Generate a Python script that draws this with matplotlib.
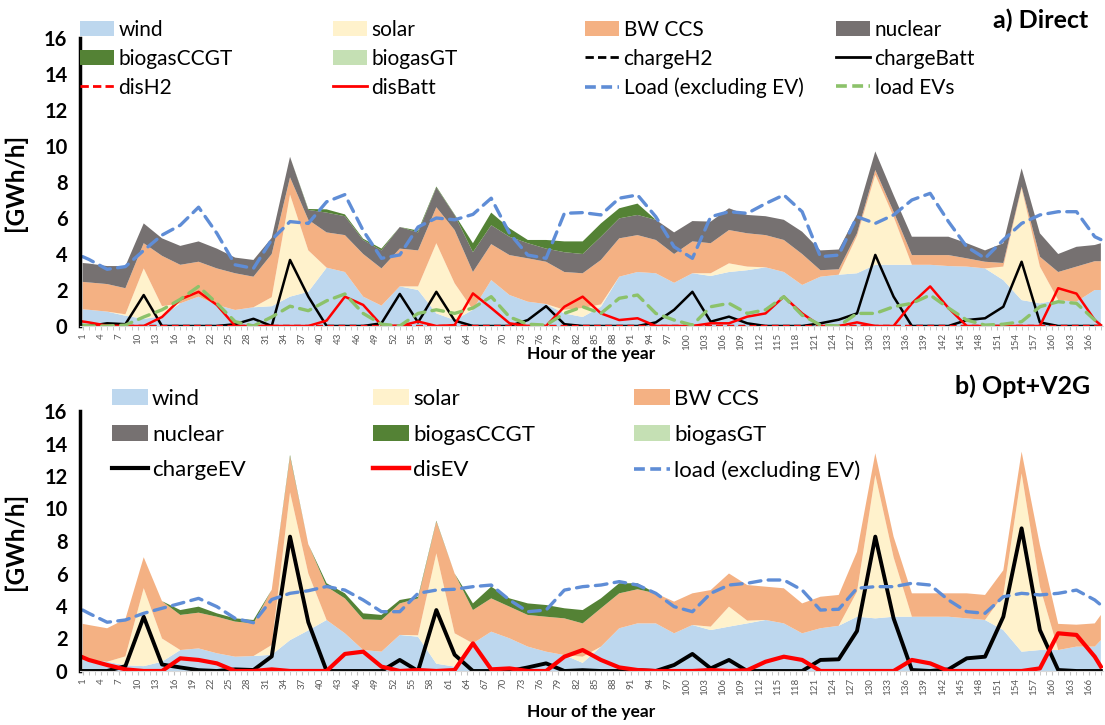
import numpy as np
import matplotlib
matplotlib.use('Agg')
import matplotlib.pyplot as plt
from matplotlib.patches import Patch
from matplotlib.lines import Line2D

plt.rcParams['font.family'] = ['Lato', 'DejaVu Sans']

# hours (every 3 h, plus both ends)
hours = [1] + list(range(2, 168, 3)) + [168]
tick_hours = list(range(1, 167, 3))

# ---------- a) Direct : upper edge of each stacked area ----------
a_wind_top = [.93, .9, .8, .57, .4, .55, 1.26, 1.63, 1.17, .89, 1.04, 1.1, 1.63, 1.9, 3.24, 3.0,
              1.63, 1.13, 2.2, 2.0, .7, .33, .9, 2.55, 1.72, 1.35, 1.22, .7, .5, 1.07, 2.74, 3.0,
              2.93, 2.4, 2.93, 2.78, 3.0, 3.1, 3.26, 3.0, 2.28, 2.74, 2.85, 2.93, 3.4, 3.4, 3.4,
              3.4, 3.33, 3.3, 3.2, 2.55, 1.44, 1.26, 1.44, 1.35, 2.0, 2.0]
a_solar_top = [.93, .9, .8, .65, 3.2, 1.1, 1.26, 1.63, 1.17, .89, 1.04, 1.6, 7.3, 4.2, 3.24, 3.0,
               1.63, 1.13, 2.2, 2.2, 4.6, 2.37, .9, 2.55, 1.72, 1.35, 1.22, .9, 1.0, 1.2, 2.74, 3.0,
               2.93, 2.4, 2.93, 2.93, 3.48, 3.3, 3.26, 3.0, 2.28, 2.74, 2.85, 5.0, 8.4, 6.07, 3.4,
               3.4, 3.33, 3.3, 3.2, 3.3, 7.65, 3.3, 1.44, 1.35, 2.0, 2.0]
a_bwccs_top = [2.45, 2.42, 2.33, 2.1, 4.6, 3.9, 3.4, 3.57, 3.2, 2.93, 2.74, 4.0, 8.26, 5.9, 5.2, 5.05,
               4.0, 3.2, 4.3, 4.2, 6.6, 5.33, 3.0, 4.55, 3.94, 3.76, 3.57, 3.0, 2.93, 3.67, 4.87, 5.05,
               4.78, 4.0, 4.7, 4.6, 5.33, 5.15, 5.05, 4.78, 4.0, 3.1, 3.15, 5.15, 8.67, 6.35, 3.94,
               3.94, 3.94, 3.76, 3.57, 3.5, 7.74, 3.85, 3.0, 3.3, 3.6, 3.6]
a_nuclear_top = [3.5, 3.47, 3.33, 3.33, 5.7, 4.87, 4.45, 4.7, 4.3, 3.8, 3.67, 4.9, 9.4, 6.45, 6.3, 6.1,
                 4.78, 4.2, 5.5, 5.2, 7.7, 6.17, 4.1, 5.6, 4.96, 4.6, 4.3, 4.1, 4.0, 4.96, 5.98, 6.17,
                 5.9, 5.2, 5.83, 5.8, 6.54, 6.17, 6.1, 5.9, 5.24, 4.2, 4.25, 6.2, 9.7, 7.28, 4.96,
                 4.96, 4.96, 4.6, 4.2, 4.6, 8.76, 5.15, 4.0, 4.4, 4.5, 4.6]
a_ccgt_top = [3.5, 3.47, 3.33, 3.33, 5.7, 4.87, 4.45, 4.7, 4.3, 3.8, 3.67, 4.9, 9.4, 6.5, 6.48, 6.2,
              4.85, 4.3, 5.5, 5.3, 7.75, 6.2, 4.6, 6.3, 5.43, 4.78, 4.78, 4.7, 4.7, 5.7, 6.54, 6.8,
              5.9, 5.2, 5.83, 5.8, 6.54, 6.17, 6.1, 5.9, 5.24, 4.2, 4.25, 6.2, 9.7, 7.28, 4.96,
              4.96, 4.96, 4.6, 4.2, 4.6, 8.76, 5.15, 4.0, 4.4, 4.5, 4.6]
a_gt_top = a_ccgt_top

a_load = [3.85, 3.7, 3.15, 3.3, 4.2, 5.05, 5.6, 6.6, 5.15, 3.4, 3.2, 4.8, 5.8, 5.7, 6.9, 7.3,
          5.3, 3.76, 3.95, 5.5, 6.0, 5.9, 6.2, 7.1, 5.15, 3.94, 3.76, 6.26, 6.3, 6.17, 7.1, 7.28,
          6.07, 4.4, 3.76, 6.07, 6.35, 6.26, 6.8, 7.28, 6.35, 3.85, 3.94, 6.07, 5.7, 6.17, 7.0,
          7.37, 5.8, 4.4, 3.76, 4.78, 5.7, 6.17, 6.35, 6.35, 4.96, 4.8]
a_load_ev = [.05, 0, 0, .05, .5, .9, 1.48, 2.2, 1.26, .24, 0, .5, 1.1, .85, 1.4, 1.78,
             .7, .1, 0, .7, .9, .7, 1.0, 1.63, .5, .1, .05, .7, 1.07, .7, 1.54, 1.72,
             .7, .33, .05, 1.07, 1.26, .7, .9, 1.63, .6, .05, 0, .7, .7, 1.07, 1.26,
             1.72, 1.0, .33, .05, .1, .24, 1.07, 1.35, 1.26, .33, .2]
a_charge_batt = [0, 0, .15, .1, 1.72, 0, 0, 0, 0, .1, .4, 0, 3.67, 1.63, 0, 0,
                 0, .15, 1.78, .2, 1.9, .3, 0, 0, 0, .33, 1.1, .1, 0, 0, 0, 0,
                 .2, .9, 1.9, .24, .52, .15, 0, 0, 0, .15, .35, .7, 3.95, 1.63, 0,
                 0, 0, .33, .43, 1.07, 3.57, .2, 0, 0, 0, 0]
a_dis_batt = [.25, .2, .02, 0, 0, .5, 1.48, 1.9, 1.17, 0, 0, 0, 0, 0, .3, 1.63,
              1.17, .05, 0, .25, 0, .05, 1.81, 1.0, .15, 0, 0, 1.07, 1.63, .7, .33, .43,
              0, 0, 0, .15, .15, .52, .7, 1.63, .7, 0, 0, .2, 0, 0, 1.26,
              2.2, 1.0, 0, 0, 0, 0, 0, 2.1, 1.8, .33, .05]
a_charge_h2 = [0] * len(hours)
a_dis_h2 = [0] * len(hours)

# ---------- b) Opt+V2G : upper edge of each stacked area ----------
b_wind_top = [.68, .7, .57, .35, .3, .57, 1.29, 1.39, 1.09, .88, .92, 1.0, 1.9, 2.5, 3.14, 2.32,
              1.29, 1.19, 2.22, 2.11, .45, .27, 1.7, 2.42, 2.01, 1.5, 1.19, .98, .5, 1.5, 2.63, 2.93,
              2.93, 2.32, 2.83, 2.52, 2.73, 2.93, 3.14, 2.93, 2.32, 2.63, 2.78, 3.34, 3.24, 3.34, 3.34,
              3.34, 3.34, 3.24, 3.14, 2.52, 1.19, 1.29, 1.29, 1.5, 1.5, 1.9]
b_solar_top = [.68, .7, .57, .9, 5.1, 2.0, 1.29, 1.39, 1.09, .88, .92, 1.6, 11.0, 6.0, 3.14, 2.32,
               1.29, 1.19, 2.22, 2.2, 7.24, 2.32, 1.7, 2.42, 2.01, 1.5, 1.19, .98, .88, 1.5, 2.63, 2.93,
               2.93, 2.32, 2.83, 2.73, 3.96, 3.1, 3.14, 2.93, 2.32, 2.63, 2.78, 4.88, 12.06, 7.0, 3.34,
               3.34, 3.34, 3.24, 3.14, 4.68, 12.16, 5.19, 1.29, 1.5, 1.5, 1.9]
b_bwccs_top = [2.9, 2.83, 2.63, 3.2, 7.0, 4.3, 3.45, 3.59, 3.34, 3.04, 2.93, 5.0, 13.2, 7.8, 5.19, 4.47,
               3.18, 3.14, 4.16, 4.47, 9.2, 6.0, 3.75, 4.47, 3.96, 3.45, 3.34, 3.24, 2.93, 3.86, 4.78, 5.03,
               4.78, 4.27, 4.78, 4.98, 6.0, 5.29, 5.19, 5.09, 4.16, 4.57, 4.68, 7.34, 13.4, 8.27, 4.78,
               4.78, 4.78, 4.78, 4.68, 6.2, 13.5, 7.75, 2.9, 2.85, 2.93, 3.45]
b_nuclear_top = b_bwccs_top
b_ccgt_top = [2.9, 2.83, 2.63, 3.2, 7.0, 4.3, 3.75, 3.96, 3.55, 3.24, 3.14, 5.0, 13.3, 7.8, 5.4, 4.78,
              3.55, 3.45, 4.37, 4.57, 9.25, 6.0, 4.16, 5.19, 4.47, 4.16, 4.06, 3.86, 3.75, 4.47, 5.4, 5.4,
              4.78, 4.27, 4.78, 4.98, 6.0, 5.29, 5.19, 5.09, 4.16, 4.57, 4.68, 7.34, 13.4, 8.27, 4.78,
              4.78, 4.78, 4.78, 4.68, 6.2, 13.5, 7.75, 2.9, 2.85, 2.93, 3.45]
b_gt_top = b_ccgt_top

b_load = [3.75, 3.55, 3.0, 3.14, 3.55, 3.86, 4.16, 4.47, 3.96, 3.24, 2.97, 4.4, 4.78, 4.94, 5.2, 4.98,
          4.37, 3.65, 3.65, 4.78, 4.98, 5.03, 5.19, 5.29, 4.37, 3.65, 3.75, 4.98, 5.19, 5.29, 5.5, 5.29,
          4.78, 3.96, 3.65, 4.78, 5.29, 5.4, 5.6, 5.6, 4.98, 3.75, 3.8, 5.09, 5.19, 5.19, 5.4,
          5.29, 4.37, 3.65, 3.55, 4.57, 4.78, 4.68, 4.78, 4.98, 4.37, 4.06]
b_charge_ev = [0, 0, 0, .3, 3.34, .4, .22, .05, 0, .1, .06, .9, 8.27, 3.0, 0, 0,
               0, 0, .68, 0, 3.75, 1.0, 0, 0, 0, .22, .47, 0, .05, 0, 0, .05,
               0, .37, 1.05, .16, .68, 0, 0, 0, 0, .68, .72, 2.46, 8.27, 3.24, .06,
               0, .1, .78, .88, 3.34, 8.78, 2.52, .06, 0, 0, 0]
b_dis_ev = [.84, .68, .37, .1, 0, 0, .78, .68, .47, 0, 0, .1, 0, 0, 0, 1.05,
            1.19, .27, 0, .06, 0, .06, 1.7, .1, .16, 0, 0, .88, 1.29, .68, .22, .06,
            0, 0, 0, .06, 0, .05, .57, .88, .68, 0, 0, 0, 0, 0, .68,
            .47, 0, 0, 0, 0, 0, .16, 2.32, 2.22, .88, .27]

area_colors = ['#BDD7EE', '#FFF2CC', '#F4B183', '#767171', '#548235', '#C5E0B4']
load_color = '#5F8DD6'
ev_color = '#8CC26A'


def layers(*tops):
    tops = [np.asarray(t, dtype=float) for t in tops]
    out = [tops[0]]
    for lo, hi in zip(tops[:-1], tops[1:]):
        out.append(np.clip(hi - lo, 0, None))
    return out


fig = plt.figure(figsize=(11.05, 7.25), dpi=100)
W, H = 1105, 725
ax1 = fig.add_axes([80 / W, 1 - 326 / H, (1103 - 80) / W, (326 - 38) / H])
ax2 = fig.add_axes([80 / W, 1 - 671 / H, (1103 - 80) / W, (671 - 411) / H])

# stacked areas
ax1.stackplot(hours, *layers(a_wind_top, a_solar_top, a_bwccs_top, a_nuclear_top, a_ccgt_top, a_gt_top),
              colors=area_colors, linewidth=0)
ax2.stackplot(hours, *layers(b_wind_top, b_solar_top, b_bwccs_top, b_nuclear_top, b_ccgt_top, b_gt_top),
              colors=area_colors, linewidth=0)

# lines, panel a
ax1.plot(hours, a_charge_h2, color='black', lw=1.6, ls=(0, (3, 2)))
ax1.plot(hours, a_charge_batt, color='black', lw=1.8)
ax1.plot(hours, a_dis_h2, color='red', lw=1.6, ls=(0, (3, 2)))
ax1.plot(hours, a_dis_batt, color='red', lw=1.8)
ax1.plot(hours, a_load, color=load_color, lw=2.4, ls=(0, (3.5, 2.2)), dash_capstyle='round')
ax1.plot(hours, a_load_ev, color=ev_color, lw=2.4, ls=(0, (3.5, 2.2)), dash_capstyle='round')

# lines, panel b
ax2.plot(hours, b_charge_ev, color='black', lw=2.8)
ax2.plot(hours, b_dis_ev, color='red', lw=3.0)
ax2.plot(hours, b_load, color=load_color, lw=2.4, ls=(0, (3.5, 2.2)), dash_capstyle='round')

for ax, lab_y in ((ax1, -0.068), (ax2, -0.125)):
    ax.set_xlim(0.55, 168.35)
    ax.set_ylim(0, 16)
    ax.set_yticks(range(0, 17, 2))
    ax.set_xticks(tick_hours)
    ax.set_xticklabels([str(h) for h in tick_hours], rotation=90, fontsize=7, color='#595959')
    ax.set_xticks(range(1, 169), minor=True)
    ax.tick_params(axis='x', which='both', length=3, color='#BFBFBF', pad=2)
    ax.tick_params(axis='y', length=0, pad=9, labelsize=14.5)
    for t in ax.get_yticklabels():
        t.set_fontweight('bold')
    for s in ('top', 'right'):
        ax.spines[s].set_visible(False)
    ax.spines['left'].set_linewidth(2.5)
    ax.spines['left'].set_color('black')
    ax.spines['bottom'].set_color('#D9D9D9')
    ax.spines['bottom'].set_linewidth(0.8)
    ax.set_ylabel('[GWh/h]', fontsize=17.5, fontweight='bold')
    ax.yaxis.set_label_coords(-0.052, 0.5)
    ax.set_xlabel('Hour of the year', fontsize=12.5, fontweight='bold')
    ax.xaxis.set_label_coords(0.5, lab_y)
    ax.set_facecolor('none')


def patch(i):
    return Patch(facecolor=area_colors[i], edgecolor='none')


def line(color, lw, ls='-'):
    return Line2D([], [], color=color, lw=lw, ls=ls)


dash = (0, (3, 1.5))
top_cols = [
    [(patch(0), 'wind'), (patch(4), 'biogasCCGT'), (line('red', 2, dash), 'disH2')],
    [(patch(1), 'solar'), (patch(5), 'biogasGT'), (line('red', 2), 'disBatt')],
    [(patch(2), 'BW CCS'), (line('black', 2, dash), 'chargeH2'), (line(load_color, 2.6, dash), 'Load (excluding EV)')],
    [(patch(3), 'nuclear'), (line('black', 2), 'chargeBatt'), (line(ev_color, 2.6, dash), 'load EVs')],
]
top_x = [80, 333, 585, 836]
for x, col in zip(top_x, top_cols):
    fig.legend([c[0] for c in col], [c[1] for c in col], loc='upper left',
               bbox_to_anchor=(x / W, 1 - 20 / H), frameon=False, fontsize=15,
               borderpad=0, borderaxespad=0, handlelength=1.65, handletextpad=0.2,
               labelspacing=0.42)

bot_cols = [
    [(patch(0), 'wind'), (patch(3), 'nuclear'), (line('black', 3), 'chargeEV')],
    [(patch(1), 'solar'), (patch(4), 'biogasCCGT'), (line('red', 3.2), 'disEV')],
    [(patch(2), 'BW CCS'), (patch(5), 'biogasGT'), (line(load_color, 2.6, dash), 'load (excluding EV)')],
]
bot_x = [112, 373, 634]
for x, col in zip(bot_x, bot_cols):
    fig.legend([c[0] for c in col], [c[1] for c in col], loc='upper left',
               bbox_to_anchor=(x / W, 1 - 389 / H), frameon=False, fontsize=16,
               borderpad=0, borderaxespad=0, handlelength=1.6, handletextpad=0.2,
               labelspacing=0.7)

fig.text(1088 / W, 1 - 20 / H, 'a) Direct', ha='right', va='center', fontsize=18, fontweight='bold')
fig.text(1090 / W, 1 - 386 / H, 'b) Opt+V2G', ha='right', va='center', fontsize=18, fontweight='bold')

fig.savefig('out.png', dpi=100)
